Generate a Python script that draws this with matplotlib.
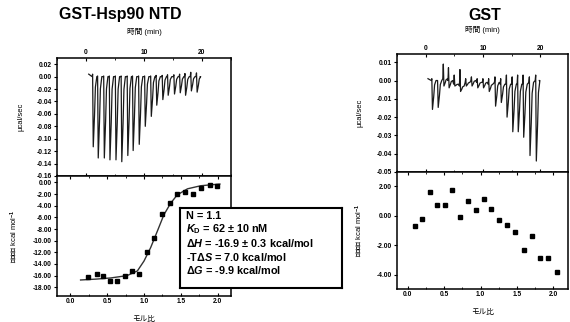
import numpy as np
import matplotlib
matplotlib.use("Agg")
import matplotlib.pyplot as plt
from matplotlib.ticker import MultipleLocator, FormatStrFormatter, FuncFormatter

plt.rcParams['font.family'] = ['Liberation Sans', 'Noto Sans CJK JP']
plt.rcParams['font.weight'] = 'bold'
plt.rcParams['mathtext.fontset'] = 'custom'
plt.rcParams['mathtext.rm'] = 'Liberation Sans:bold'
plt.rcParams['mathtext.it'] = 'Liberation Sans:italic:bold'
plt.rcParams['mathtext.bf'] = 'Liberation Sans:bold'

# ---- GST-Hsp90 NTD raw ITC (injection time, peak minimum, spike before injection)
hsp_inj_t = [1.17, 2.03, 3.08, 4.05, 5.09, 6.09, 7.13, 8.05, 9.10, 10.14,
             11.18, 12.12, 13.17, 14.09, 15.18, 16.17, 17.09, 18.09, 19.08]
hsp_peak = [-0.113, -0.131, -0.131, -0.134, -0.134, -0.137, -0.127, -0.119, -0.109, -0.080,
            -0.064, -0.046, -0.037, -0.030, -0.028, -0.026, -0.030, -0.023, -0.025]
hsp_up = [0.004, 0.001, 0.001, 0.001, 0.001, 0.001, 0.001, 0.001, 0.001, 0.001,
          0.001, 0.002, 0.002, 0.003, 0.003, 0.004, 0.005, 0.007, 0.006]
hsp_base = [0.0] * 19

# ---- GST-Hsp90 NTD integrated heats
hsp_ratio = [0.24, 0.36, 0.45, 0.54, 0.64, 0.74, 0.84, 0.93, 1.04, 1.14,
             1.25, 1.35, 1.45, 1.56, 1.67, 1.77, 1.89, 1.99]
hsp_heat = [-16.3, -15.7, -16.1, -16.9, -17.0, -16.0, -15.2, -15.7, -11.9, -9.6,
            -5.4, -3.6, -2.0, -1.6, -2.0, -0.9, -0.5, -0.6]
fit_ratio = [0.14, 0.35, 0.55, 0.77, 0.91, 1.00, 1.09, 1.18, 1.27, 1.36, 1.45, 1.59, 1.77, 2.03]
fit_heat = [-16.75, -16.6, -16.4, -16.0, -15.2, -13.5, -11.2, -8.4, -5.55, -3.6, -2.15, -1.1, -0.57, -0.28]

# ---- GST control raw ITC
gst_inj_t = [1.1, 2.1, 3.1, 4.0, 5.0, 6.0, 7.0, 8.0, 9.0, 10.0,
             11.0, 12.1, 13.1, 14.1, 15.1, 16.05, 17.0, 18.1, 19.2]
gst_peak = [-0.0158, -0.0147, -0.003, -0.004, -0.003, -0.006, -0.003, -0.003, -0.004, -0.004,
            -0.006, -0.014, -0.012, -0.020, -0.028, -0.028, -0.031, -0.041, -0.044]
gst_up = [0.001, 0.000, 0.009, 0.007, 0.003, 0.006, 0.001, 0.002, 0.001, 0.001,
          0.001, 0.002, 0.001, 0.003, 0.002, 0.003, 0.003, 0.002, 0.003]
gst_base = [0.0, 0.0, 0.001, 0.0, -0.002, -0.003, -0.001, 0.0, -0.001, -0.001,
            -0.002, -0.001, -0.002, -0.002, -0.002, -0.002, -0.002, -0.001, 0.0]

# ---- GST integrated heats
gst_ratio = [0.10, 0.19, 0.30, 0.40, 0.51, 0.61, 0.71, 0.82, 0.93, 1.04,
             1.14, 1.25, 1.36, 1.47, 1.59, 1.70, 1.82, 1.93, 2.05]
gst_heat = [-0.72, -0.20, 1.59, 0.75, 0.75, 1.72, -0.09, 1.02, 0.41, 1.13,
            0.48, -0.27, -0.66, -1.11, -2.31, -1.40, -2.88, -2.88, -3.78]

# tick values
hsp_raw_ticks = [-0.16, -0.14, -0.12, -0.10, -0.08, -0.06, -0.04, -0.02, 0.0, 0.02]
hsp_heat_ticks = [-18, -16, -14, -12, -10, -8, -6, -4, -2, 0]
gst_raw_ticks = [-0.05, -0.04, -0.03, -0.02, -0.01, 0.0, 0.01]
gst_heat_ticks = [-4, -2, 0, 2]

fit_text = ["N = 1.1",
            r"$K_{\mathrm{D}}$ = 62 ± 10 nM",
            r"Δ$H$ = -16.9 ± 0.3 kcal/mol",
            r"-TΔ$S$ = 7.0 kcal/mol",
            r"Δ$G$ = -9.9 kcal/mol"]


def trace(inj_t, peak, up, base, t_end):
    t, y = [inj_t[0] - 0.7], [up[0]]
    for ti, p, u, b in zip(inj_t, peak, up, base):
        t += [ti - 0.12, ti - 0.03, ti + 0.08, ti + 0.3, ti + 0.45, ti + 0.7]
        y += [b, u, p, b + 0.55 * (p - b), b + 0.15 * (p - b), b]
    t.append(t_end)
    y.append(base[-1])
    return t, y


two_dec = FuncFormatter(lambda v, pos: "%.2f" % (0.0 if abs(v) < 1e-9 else v))


def style(ax, top):
    for s in ax.spines.values():
        s.set_linewidth(1.1)
    ax.tick_params(axis='both', labelsize=4.8, width=0.8, length=2.2, pad=1.5)
    ax.tick_params(axis='x', direction='in', top=True, bottom=True,
                   labeltop=top, labelbottom=not top)
    ax.tick_params(axis='y', direction='out', right=False)
    ax.tick_params(which='minor', length=1.3, width=0.6, direction='in', top=True)
    ax.yaxis.set_major_formatter(two_dec)


W, H = 570, 322
fig = plt.figure(figsize=(5.7, 3.22), dpi=100)


def add(x0, y0, x1, y1):
    return fig.add_axes([x0 / W, 1 - y1 / H, (x1 - x0) / W, (y1 - y0) / H])


lt = add(57, 58, 231, 176)
lb = add(57, 176, 231, 296)
rt = add(397, 54, 568, 172)
rb = add(397, 172, 568, 289)

# left top
t, y = trace(hsp_inj_t, hsp_peak, hsp_up, hsp_base, 19.7)
lt.plot(t, y, color='#1a1a1a', lw=0.9)
lt.set_xlim(-5, 25)
lt.set_ylim(-0.16, 0.03)
lt.set_yticks(hsp_raw_ticks)
lt.xaxis.set_major_locator(MultipleLocator(10))
lt.xaxis.set_minor_locator(MultipleLocator(5))
style(lt, True)
lt.set_xlabel('時間 (min)', fontsize=5.5)
lt.xaxis.set_label_position('top')
lt.xaxis.set_label_coords(0.5, 1.2)
lt.set_ylabel('μcal/sec', fontsize=5.5)
lt.yaxis.set_label_coords(-0.184, 0.5)

# left bottom
lb.plot(fit_ratio, fit_heat, color='#333333', lw=1.0)
lb.plot(hsp_ratio, hsp_heat, 's', color='black', ms=3.2)
lb.set_xlim(-0.18, 2.18)
lb.set_ylim(-19.5, 1.1)
lb.set_yticks(hsp_heat_ticks)
lb.xaxis.set_major_locator(MultipleLocator(0.5))
lb.xaxis.set_minor_locator(MultipleLocator(0.25))
lb.xaxis.set_major_formatter(FormatStrFormatter('%.1f'))
style(lb, False)
lb.set_xlabel('モル比', fontsize=5.5)
lb.xaxis.set_label_coords(0.5, -0.17)
lb.set_ylabel('滴下物の kcal mol$^{-1}$', fontsize=5.5)
lb.yaxis.set_label_coords(-0.213, 0.5)

# right top
t, y = trace(gst_inj_t, gst_peak, gst_up, gst_base, 19.8)
rt.plot(t, y, color='#1a1a1a', lw=0.9)
rt.set_xlim(-5, 24.8)
rt.set_ylim(-0.05, 0.0145)
rt.set_yticks(gst_raw_ticks)
rt.xaxis.set_major_locator(MultipleLocator(10))
rt.xaxis.set_minor_locator(MultipleLocator(5))
style(rt, True)
rt.set_xlabel('時間 (min)', fontsize=5.5)
rt.xaxis.set_label_position('top')
rt.xaxis.set_label_coords(0.5, 1.19)
rt.set_ylabel('μcal/sec', fontsize=5.5)
rt.yaxis.set_label_coords(-0.198, 0.5)

# right bottom
rb.plot(gst_ratio, gst_heat, 's', color='black', ms=3.2)
rb.set_xlim(-0.15, 2.2)
rb.set_ylim(-4.95, 2.95)
rb.set_yticks(gst_heat_ticks)
rb.xaxis.set_major_locator(MultipleLocator(0.5))
rb.xaxis.set_minor_locator(MultipleLocator(0.25))
rb.xaxis.set_major_formatter(FormatStrFormatter('%.1f'))
style(rb, False)
rb.set_xlabel('モル比', fontsize=5.5)
rb.xaxis.set_label_coords(0.5, -0.17)
rb.set_ylabel('滴下物の kcal mol$^{-1}$', fontsize=5.5)
rb.yaxis.set_label_coords(-0.186, 0.5)

# fit parameter box
box = add(180, 208, 342, 288)
box.set_xticks([])
box.set_yticks([])
for s in box.spines.values():
    s.set_linewidth(1.5)
for i, line in enumerate(fit_text):
    box.text(0.035, 0.9 - i * 0.17, line, fontsize=7.8, va='center', ha='left',
             transform=box.transAxes)

fig.text(120 / W, 1 - 15 / H, 'GST-Hsp90 NTD', fontsize=11.5, ha='center', va='center')
fig.text(485 / W, 1 - 15 / H, 'GST', fontsize=11.5, ha='center', va='center')

fig.savefig('out.png', dpi=100)
